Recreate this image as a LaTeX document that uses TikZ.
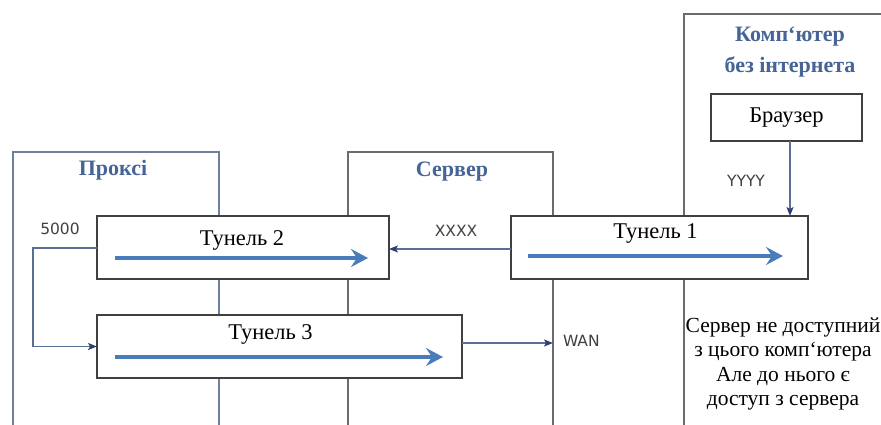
\documentclass[tikz,border=0pt]{standalone}
\usepackage{fontspec}
\setmainfont{Liberation Serif}
\setsansfont{DejaVu Sans}
\usetikzlibrary{arrows.meta,calc}
\definecolor{TunPaper}{gray}{1}
\definecolor{TunInk}{gray}{0.25}
\definecolor{TunGrid}{gray}{0.42}
\definecolor{TunProxy}{RGB}{110,128,160}
\definecolor{TunTitle}{RGB}{70,100,150}
\definecolor{TunFlow}{RGB}{72,124,186}
\definecolor{TunLink}{RGB}{88,112,150}
\definecolor{TunHead}{RGB}{45,65,110}
\tikzset{
    tunnel/diagram/.style={
        x=1pt, y=-1pt,
        font=\fontsize{22.5}{26}\selectfont,
        line cap=butt,
        line join=miter,
        every node/.style={inner sep=0pt, outer sep=0pt}
    },
    tunnel/column/.style={draw=TunGrid, line width=1.6pt},
    tunnel/proxycol/.style={draw=TunProxy, line width=1.6pt},
    tunnel/box/.style={
        rectangle, draw=TunInk, fill=TunPaper, line width=1.5pt
    },
    tunnel/flow/.style={
        draw=TunFlow, line width=4pt,
        -{Stealth[length=17pt, width=18pt, inset=6pt]}
    },
    tunnel/link/.style={
        draw=TunLink, line width=1.2pt,
        -{Stealth[length=9pt, width=7pt, inset=2pt, color=TunHead]}
    },
    tunnel/title/.style={
        text=TunTitle, font=\fontsize{22}{31}\selectfont\bfseries, align=center
    },
    tunnel/port/.style={
        text=TunInk, font=\sffamily\fontsize{15.5}{18}\selectfont
    },
    tunnel/note/.style={
        text=black, align=center, font=\fontsize{21.5}{24.5}\selectfont
    }
}
\begin{document}
\begin{tikzpicture}[tunnel/diagram]
    \useasboundingbox[fill=white] (0,0) rectangle (881,425);
    % columns
    \draw[tunnel/proxycol] (13,425) -- (13,152) -- (219,152) -- (219,425);
    \draw[tunnel/column] (348,425) -- (348,152) -- (553,152) -- (553,425);
    \draw[tunnel/column] (684,425) -- (684,14) -- (881,14);
    \node[tunnel/title] (proxyt) at (113,170) {Проксі};
    \node[tunnel/title] (servert) at (452,172) {Сервер};
    \node[tunnel/title] (compt) at (790,52) {Комп`ютер\\без інтернета};
    % boxes
    \node[tunnel/box, minimum width=151pt, minimum height=47pt]
        (browser) at (786.5,117.5) {Браузер};
    \node[tunnel/box, minimum width=297pt, minimum height=63pt]
        (t1) at (659.5,247.5) {};
    \node[tunnel/box, minimum width=292pt, minimum height=63pt]
        (t2) at (243,247.5) {};
    \node[tunnel/box, minimum width=365pt, minimum height=63pt]
        (t3) at (279.5,346.5) {};
    \node (t1l) at ($(t1.center)+(-4,-14)$) {Тунель 1};
    \node (t2l) at ($(t2.center)+(-1,-7)$) {Тунель 2};
    \node (t3l) at ($(t3.center)+(-9,-12)$) {Тунель 3};
    \draw[tunnel/flow] ($(t1.west)+(17,8.5)$) -- ($(t1.west)+(272,8.5)$);
    \draw[tunnel/flow] ($(t2.west)+(18,10.5)$) -- ($(t2.west)+(271,10.5)$);
    \draw[tunnel/flow] ($(t3.west)+(18,10.5)$) -- ($(t3.west)+(346,10.5)$);
    % connectors
    \coordinate (bdrop) at (790,141);
    \draw[tunnel/link] (bdrop) -- (bdrop |- t1.north);
    \draw[tunnel/link] ($(t1.west)+(0,1.5)$) -- ($(t2.east)+(0,1.5)$);
    \coordinate (loop) at (33,248);
    \draw[tunnel/link] (t2.west |- loop) -- (loop) -- (loop |- t3.west)
        -- (t3.west);
    \coordinate (wan) at (553,343);
    \draw[tunnel/link] (t3.east |- wan) -- (wan);
    % labels
    \node[tunnel/port] (yyyy) at (746,181) {YYYY};
    \node[tunnel/port] (xxxx) at (456,231) {XXXX};
    \node[tunnel/port] (p5000) at (60,229) {5000};
    \node[tunnel/port, anchor=west] (wanl) at (563,341) {WAN};
    \node[tunnel/note] (note) at (783,364)
        {Сервер не доступний\\з цього комп`ютера\\Але до нього є\\доступ з сервера};
\end{tikzpicture}
\end{document}
